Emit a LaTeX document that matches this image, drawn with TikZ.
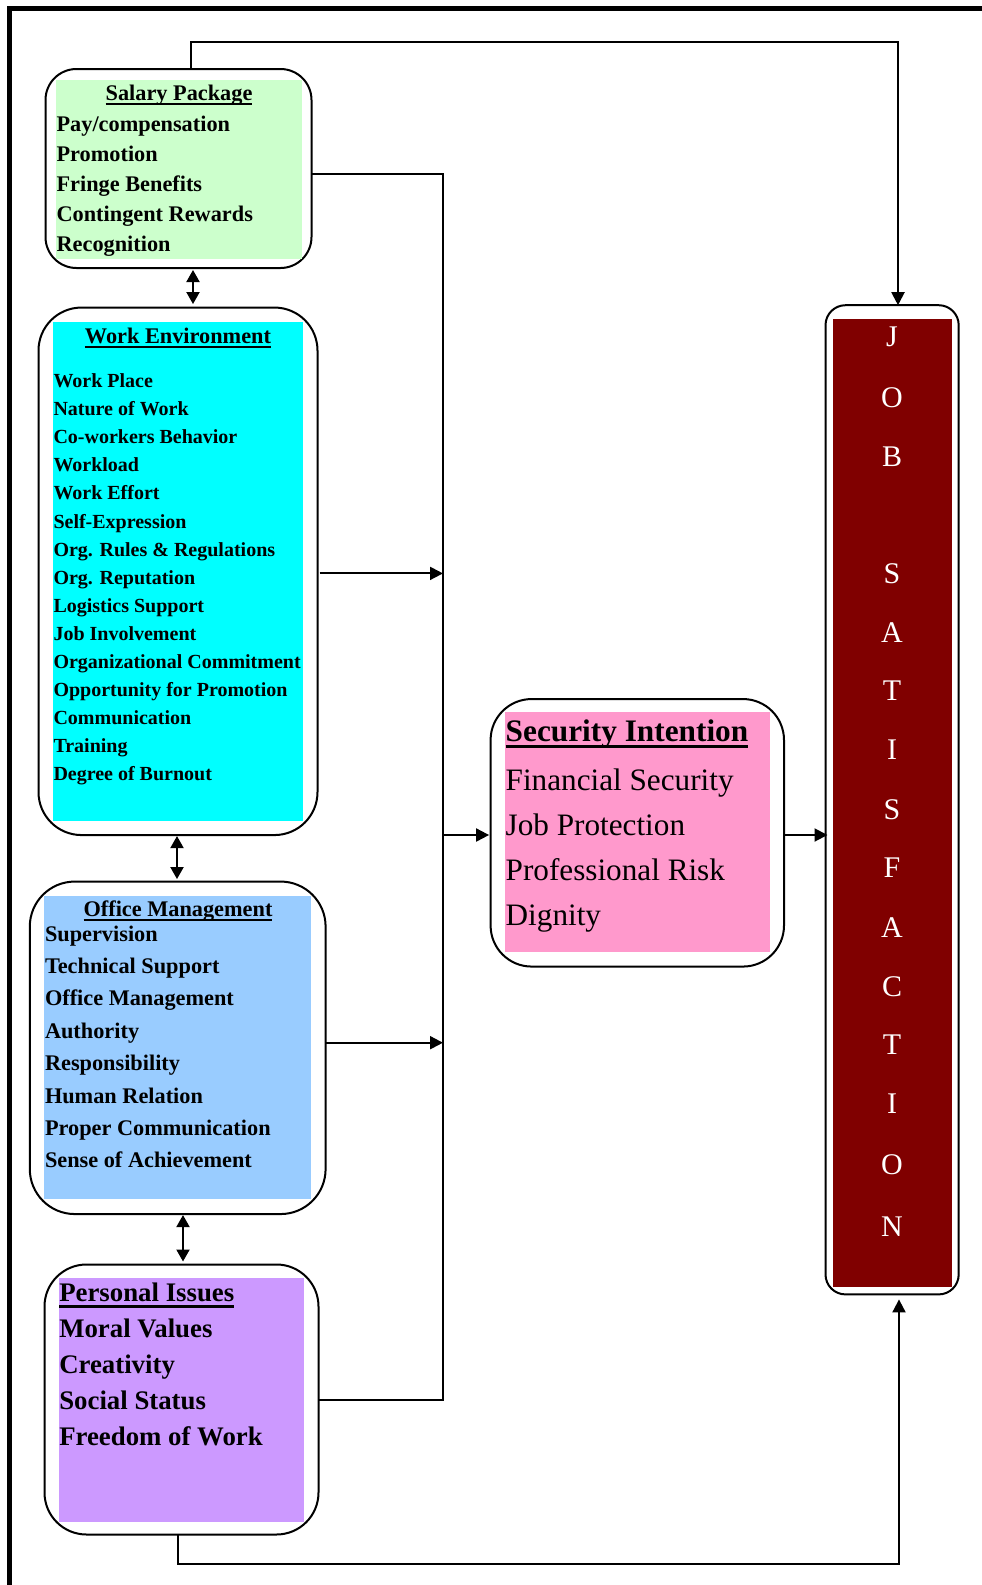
\documentclass[tikz,border=0pt]{standalone}
\usepackage{fontspec}
\setmainfont{Liberation Serif}
\usetikzlibrary{arrows.meta}
\definecolor{salfill}{HTML}{CCFFCC}
\definecolor{workfill}{HTML}{00FFFF}
\definecolor{offfill}{HTML}{99CCFF}
\definecolor{perfill}{HTML}{CC99FF}
\definecolor{secfill}{HTML}{FF99CC}
\definecolor{jobfill}{HTML}{800000}
\newcommand\fsalary{\fontsize{22.3}{26}\selectfont\bfseries}
\newcommand\fworkitem{\fontsize{20}{24}\selectfont\bfseries}
\newcommand\fpersonal{\fontsize{26.8}{31}\selectfont\bfseries}
\newcommand\fsecreg{\fontsize{31.2}{36}\selectfont}
\newcommand\fsecbold{\fontsize{31.3}{36}\selectfont\bfseries}
\newcommand\fjobletter{\fontsize{30}{34}\selectfont}
\begin{document}
\begin{tikzpicture}[x=1pt,y=-1pt,
  every node/.style={inner sep=0pt, outer sep=0pt},
  frame/.style={draw=black, line width=2pt, fill=white, rounded corners=#1},
  panel/.style={fill=#1, draw=none},
  conn/.style={draw=black, line width=2pt},
  tip/.style={-{Triangle[length=13pt,width=13pt]}},
  dtip/.style={{Triangle[length=12pt,width=13pt]}-{Triangle[length=12pt,width=13pt]}},
  item/.style={anchor=base west},
  title/.style={anchor=base}
]
\useasboundingbox (0,0) rectangle (982,1585);
\fill[white] (0,0) rectangle (982,1585);

% outer border (left and top)
\draw[line width=4.5pt] (9.5,1600) -- (9.5,8.5) -- (1000,8.5);

% ---------- boxes ----------
\node[frame=31pt, minimum width=266pt, minimum height=199pt] (sal) at (178.5,168.5) {};
\node[panel=salfill, minimum width=246.8pt, minimum height=179pt] (salp) at (179,169) {};

\node[frame=43pt, minimum width=279pt, minimum height=527.5pt] (work) at (178,571.3) {};
\node[panel=workfill, minimum width=250.8pt, minimum height=499pt] (workp) at (178,571.5) {};

\node[frame=45pt, minimum width=295.8pt, minimum height=332.5pt] (off) at (177.7,1047.8) {};
\node[panel=offfill, minimum width=267.5pt, minimum height=303pt] (offp) at (177.5,1047.5) {};

\node[frame=42pt, minimum width=274pt, minimum height=270pt] (per) at (181.5,1399.5) {};
\node[panel=perfill, minimum width=245.2pt, minimum height=243.7pt] (perp) at (181.6,1399.7) {};

\node[frame=41pt, minimum width=293.4pt, minimum height=267.5pt] (sec) at (637.3,832.8) {};
\node[panel=secfill, minimum width=265.6pt, minimum height=240pt] (secp) at (637.6,832.2) {};

\node[frame=20pt, minimum width=133.2pt, minimum height=989.2pt] (job) at (892.1,799.8) {};
\node[panel=jobfill, minimum width=119pt, minimum height=968.5pt] (jobp) at (892.5,803) {};

% ---------- texts ----------
% Salary Package
\node[title, font=\fsalary] (salt) at (179,100) {Salary Package};
\draw[line width=1.8pt] ([yshift=-3.8pt]salt.base west) -- ([yshift=-3.8pt]salt.base east);
\foreach \t [count=\i from 0] in {Pay/compensation, Promotion, Fringe Benefits, Contingent Rewards, Recognition}
  \node[item, font=\fsalary] (s\i) at (56.6,{131+30*\i}) {\t};

% Work Environment
\node[title, font=\fsalary] (workt) at (178,343.6) {Work Environment};
\draw[line width=1.8pt] ([yshift=-3.5pt]workt.base west) -- ([yshift=-3.5pt]workt.base east);
\foreach \t [count=\i from 0] in {Work Place, Nature of Work, Co-workers Behavior, Workload, Work Effort, Self-Expression, Org. Rules \& Regulations, Org. Reputation, Logistics Support, Job Involvement, Organizational Commitment, Opportunity for Promotion, Communication, Training, Degree of Burnout}
  \node[item, font=\fworkitem] (w\i) at (53.5,{387.5+28.1*\i}) {\t};

% Office Management
\node[title, font=\fsalary] (offt) at (178,916.7) {Office Management};
\draw[line width=1.8pt] ([yshift=-3.3pt]offt.base west) -- ([yshift=-3.3pt]offt.base east);
\foreach \t [count=\i from 0] in {Supervision, Technical Support, Office Management, Authority, Responsibility, Human Relation, Proper Communication, Sense of Achievement}
  \node[item, font=\fsalary] (o\i) at (45,{941+32.4*\i}) {\t};

% Personal Issues
\node[item, font=\fpersonal] (pert) at (59.3,1301.7) {Personal Issues};
\draw[line width=2.6pt] ([yshift=-5pt]pert.base west) -- ([yshift=-5pt]pert.base east);
\foreach \t [count=\i from 0] in {Moral Values, Creativity, Social Status, Freedom of Work}
  \node[item, font=\fpersonal] (p\i) at (59.3,{1337.3+36.1*\i}) {\t};

% Security Intention
\node[item, font=\fsecbold] (sect) at (505.7,741) {Security Intention};
\draw[line width=2.8pt] ([yshift=-5.5pt]sect.base west) -- ([yshift=-5.5pt]sect.base east);
\foreach \t [count=\i from 0] in {Financial Security, Job Protection, Professional Risk, Dignity}
  \node[item, font=\fsecreg] (si\i) at (505.7,{790+45.2*\i}) {\t};

% JOB SATISFACTION
\foreach \c/\yy [count=\i] in {J/346.8, O/407.4, B/466, S/583.4, A/642, T/700.7, I/759.4, S/819, F/877.7, A/937.4, C/996, T/1054.7, I/1113.3, O/1174, N/1236.7}
  \node[anchor=base, font=\fjobletter, text=white] (jl\i) at (892,\yy) {\c};

% ---------- connectors ----------
\coordinate (topl) at (190.7,41.7);
\coordinate (topr) at (898,41.7);
\draw[conn, tip] (sal.north -| topl) -- (topl) -- (topr) -- (job.north -| topr);

\coordinate (bustop) at (443,174);
\coordinate (busbot) at (443,1399.5);
\draw[conn] (sal.east |- bustop) -- (bustop) -- (busbot) -- (per.east |- busbot);

\coordinate (wa) at (443,573.4);
\draw[conn, tip] ([xshift=2pt]work.east |- wa) -- (wa);
\coordinate (oa) at (443,1042.7);
\draw[conn, tip] (off.east |- oa) -- (oa);

\coordinate (ca) at (443,835);
\draw[conn, tip] (ca) -- ([xshift=-1.5pt]sec.west |- ca);
\draw[conn, tip] (sec.east |- ca) -- ([xshift=2pt]job.west |- ca);

\coordinate (botl) at (178.3,1564);
\coordinate (botr) at (899,1564);
\draw[conn, tip] (per.south -| botl) -- (botl) -- (botr) -- ([yshift=-5pt]job.south -| botr);

% double arrows
\coordinate (d1) at (193,0);
\draw[conn, dtip] ([yshift=-2pt]sal.south -| d1) -- ([yshift=3.5pt]work.north -| d1);
\coordinate (d2) at (177,0);
\draw[conn, dtip] ([yshift=-1pt]work.south -| d2) -- ([yshift=2.5pt]off.north -| d2);
\coordinate (d3) at (183,0);
\draw[conn, dtip] ([yshift=-1pt]off.south -| d3) -- ([yshift=3pt]per.north -| d3);
\end{tikzpicture}
\end{document}
